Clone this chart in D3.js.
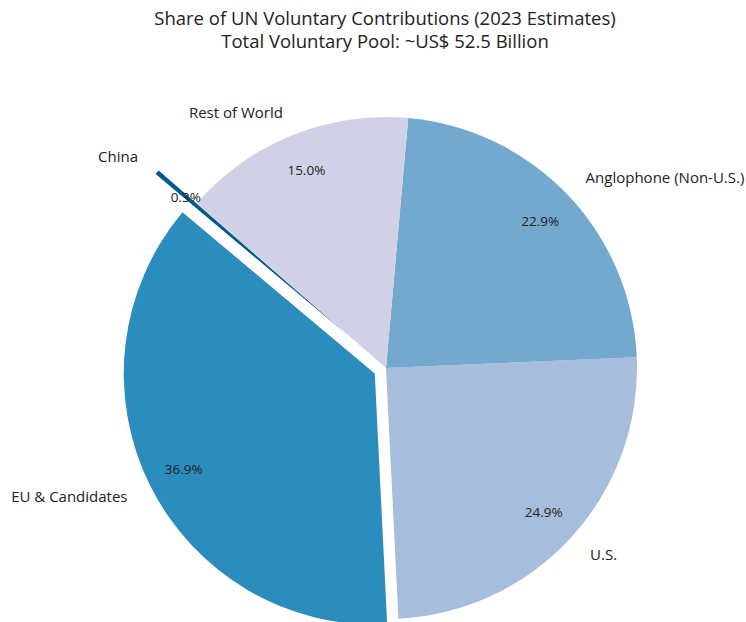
<!DOCTYPE html>
<html>
<head>
<meta charset="utf-8">
<script src="https://cdn.jsdelivr.net/npm/d3@7"></script>
<style>
  html, body { margin: 0; padding: 0; background: #fff; }
  svg { display: block; }
  text { font-family: "Open Sans", Roboto, sans-serif; fill: #222; }
</style>
</head>
<body>
<svg id="chart" width="746" height="622"></svg>
<script>
const categories = ["EU & Candidates", "U.S.", "Anglophone (Non-U.S.)", "Rest of World", "China"];
const shares = [36.9, 24.9, 22.9, 15.0, 0.3];
const explodes = [0.05, 0, 0, 0, 0.2];
const colors = ["#2b8cbe", "#a6bddb", "#74a9cf", "#d0d1e6", "#045a8d"];
const titleLines = ["Share of UN Voluntary Contributions (2023 Estimates)", "Total Voluntary Pool: ~US$ 52.5 Billion"];

const svg = d3.select("#chart");
const cx = 386, cy = 368, R = 251;
const startDeg = 140; // matplotlib-style start angle, counterclockwise

const data = categories.map((c, i) => ({ name: c, value: shares[i], explode: explodes[i], color: colors[i] }));

const a0 = (90 - startDeg) * Math.PI / 180;
const pie = d3.pie().value(d => d.value).sort(null)
  .startAngle(a0).endAngle(a0 - 2 * Math.PI);
const arcs = pie(data);
const arc = d3.arc().innerRadius(0).outerRadius(R);

const g = svg.append("g").attr("transform", `translate(${cx},${cy})`);

arcs.forEach(a => {
  const mid = (a.startAngle + a.endAngle) / 2;
  const ux = Math.sin(mid), uy = -Math.cos(mid);
  const off = a.data.explode * R;
  const sg = g.append("g").attr("transform", `translate(${ux * off},${uy * off})`);
  sg.append("path").attr("d", arc(a)).attr("fill", a.data.color);
  const lx = ux * 1.1 * R, ly = uy * 1.1 * R;
  sg.append("text")
    .attr("x", lx).attr("y", ly)
    .attr("text-anchor", ux >= 0 ? "start" : "end")
    .attr("dominant-baseline", "central")
    .style("font-size", "15px")
    .text(a.data.name);
  sg.append("text")
    .attr("x", ux * 0.85 * R).attr("y", uy * 0.85 * R)
    .attr("text-anchor", "middle")
    .attr("dominant-baseline", "central")
    .style("font-size", "13.5px")
    .text(a.data.value.toFixed(1) + "%");
});

svg.append("g").selectAll("text").data(titleLines).join("text")
  .attr("x", 385).attr("y", (d, i) => 25 + i * 23)
  .attr("text-anchor", "middle")
  .style("font-size", "18.5px")
  .text(d => d);
</script>
</body>
</html>
